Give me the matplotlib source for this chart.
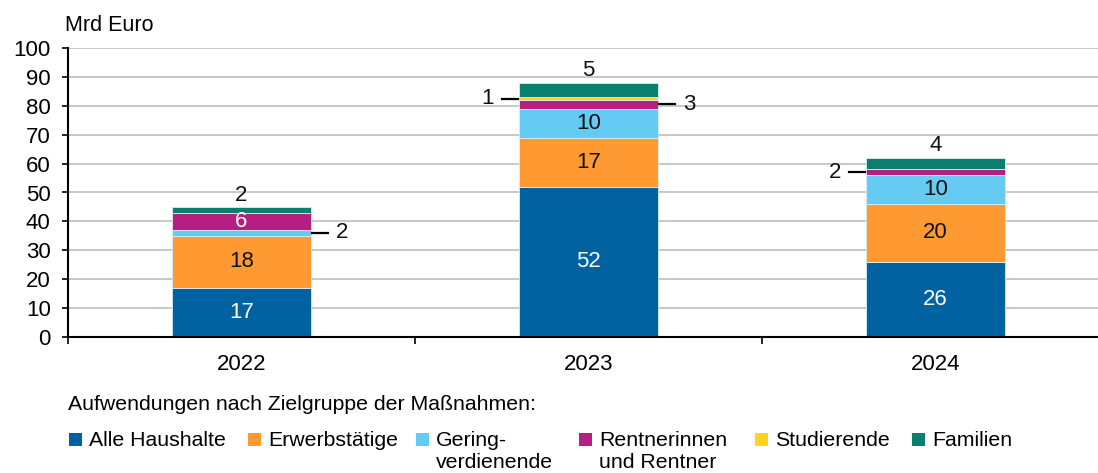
import matplotlib
matplotlib.use("Agg")
import matplotlib.pyplot as plt
from matplotlib.patches import Rectangle
import numpy as np

plt.rcParams['font.family'] = ['Liberation Sans', 'DejaVu Sans']

years = ['2022', '2023', '2024']
series_names = ['Alle Haushalte', 'Erwerbstätige', 'Gering-\nverdienende',
                'Rentnerinnen\nund Rentner', 'Studierende', 'Familien']
alle_haushalte = [17, 52, 26]
erwerbstaetige = [18, 17, 20]
geringverdienende = [2, 10, 10]
rentner = [6, 3, 2]
studierende = [0, 1, 0]
familien = [2, 5, 4]
values = [alle_haushalte, erwerbstaetige, geringverdienende, rentner, studierende, familien]

colors = ['#0062A1', '#FF9A33', '#66CBF2', '#B51F82', '#FFD31F', '#0A7F6E']
label_colors = ['white', '#111111', '#111111', 'white', '#111111', '#111111']
# label placement per series and year: in / top / right / left / none
placement = [
    ['in', 'in', 'in'],
    ['in', 'in', 'in'],
    ['right', 'in', 'in'],
    ['in', 'right', 'left'],
    ['none', 'left', 'none'],
    ['top', 'top', 'top'],
]

W, H = 1098, 473
fig = plt.figure(figsize=(W / 100, H / 100), dpi=100)
ax = fig.add_axes([68 / W, (H - 337) / H, 3 * 347 / W, (337 - 48) / H])

x = np.arange(len(years))
bw = 0.40
bottom = np.zeros(len(years))
fs = 16
for s, (vals, col) in enumerate(zip(values, colors)):
    vals = np.array(vals, dtype=float)
    ax.bar(x, vals, bw, bottom=bottom, color=col, edgecolor='#d8eef5', linewidth=0.6, zorder=3)
    for i in range(len(years)):
        v = vals[i]
        mid = bottom[i] + v / 2
        p = placement[s][i]
        if p == 'in':
            ax.text(x[i], mid, f'{v:g}', ha='center', va='center', color=label_colors[s],
                    fontsize=fs, zorder=4)
        elif p == 'top':
            ax.annotate(f'{v:g}', (x[i], bottom[i] + v), xytext=(0, 1), textcoords='offset points',
                        ha='center', va='bottom', fontsize=fs, color='#111111')
        elif p == 'right':
            x0 = x[i] + bw / 2
            ax.plot([x0 + 0.003, x0 + 0.048], [mid, mid], color='black', lw=1.6, zorder=4, clip_on=False)
            ax.text(x0 + 0.09, mid, f'{v:g}', ha='center', va='center', fontsize=fs, color='#111111')
        elif p == 'left':
            x0 = x[i] - bw / 2
            ax.plot([x0 - 0.003, x0 - 0.048], [mid, mid], color='black', lw=1.6, zorder=4, clip_on=False)
            ax.text(x0 - 0.09, mid, f'{v:g}', ha='center', va='center', fontsize=fs, color='#111111')
    bottom += vals

ax.set_xlim(-0.5, 2.5)
ax.set_ylim(0, 100)
ax.set_yticks(np.arange(0, 101, 10))
ax.set_xticks(x)
ax.set_xticklabels(years)
ax.set_xticks([-0.5, 0.5, 1.5, 2.5], minor=True)
ax.tick_params(axis='x', which='major', length=0, pad=12, labelsize=fs)
ax.tick_params(axis='x', which='minor', length=5, width=1.2, direction='out')
ax.tick_params(axis='y', length=4.5, width=1.2, pad=8, labelsize=fs)
ax.grid(axis='y', color='#c4c4c4', linewidth=1.3, zorder=0)
ax.set_axisbelow(True)
for sp in ['top', 'right']:
    ax.spines[sp].set_visible(False)
for sp in ['left', 'bottom']:
    ax.spines[sp].set_linewidth(1.5)
    ax.spines[sp].set_zorder(5)

fig.text(65 / W, 1 - 31 / H, 'Mrd Euro', ha='left', va='baseline', fontsize=15.5)

fig.text(68 / W, 1 - 410 / H, 'Aufwendungen nach Zielgruppe der Maßnahmen:', ha='left',
         va='baseline', fontsize=15.3)

sq_x = [69, 248, 416, 579, 755, 912]
for name, col, sx in zip(series_names, colors, sq_x):
    fig.patches.append(Rectangle((sx / W, 1 - 446 / H), 13 / W, 13 / H, transform=fig.transFigure,
                                 facecolor=col, edgecolor='none'))
    for k, line in enumerate(name.split('\n')):
        fig.text((sx + 20) / W, 1 - (446 + 22 * k) / H, line, ha='left', va='baseline',
                 fontsize=15.3)

fig.savefig('out.png', dpi=100)
